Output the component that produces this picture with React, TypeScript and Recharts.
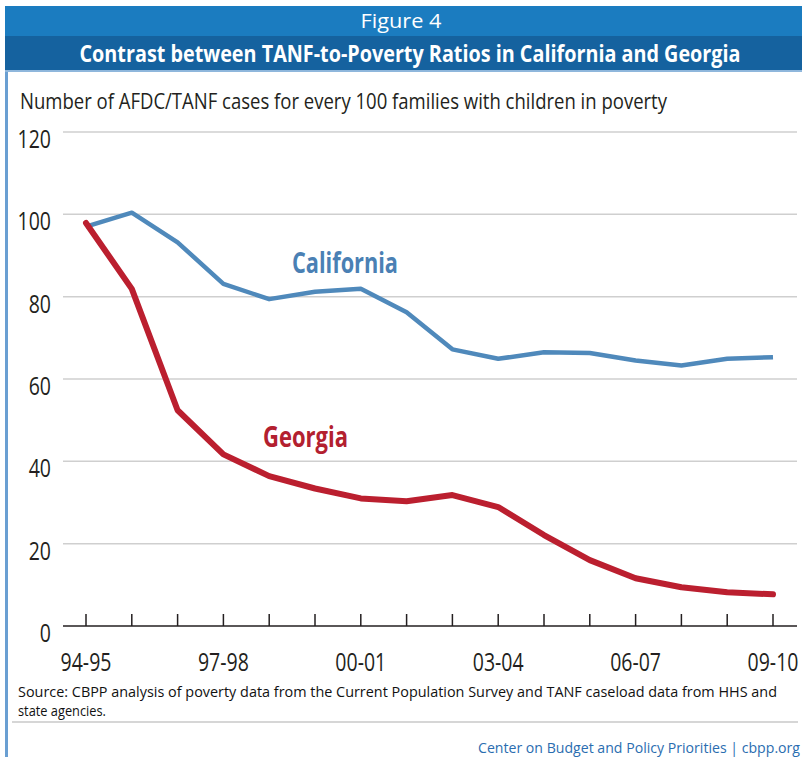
import { CartesianGrid, Line, LineChart, XAxis, YAxis } from 'recharts'

const years = [
  '94-95', '95-96', '96-97', '97-98', '98-99', '99-00', '00-01', '01-02',
  '02-03', '03-04', '04-05', '05-06', '06-07', '07-08', '08-09', '09-10',
]
const california = [97, 100.4, 93.2, 83.1, 79.4, 81.2, 81.9, 76.2, 67.2, 64.9, 66.5, 66.3, 64.5, 63.3, 64.9, 65.3]
const georgia = [97.9, 81.9, 52.4, 41.7, 36.4, 33.4, 31.0, 30.3, 31.8, 28.9, 22.1, 16.0, 11.6, 9.4, 8.2, 7.7]
const yTicks = [0, 20, 40, 60, 80, 100, 120]
const labeledYears = ['94-95', '97-98', '00-01', '03-04', '06-07', '09-10']

const data = years.map((year, i) => ({ year, california: california[i], georgia: georgia[i] }))

const font = "'Open Sans', 'Liberation Sans', sans-serif"
const ink = '#231f20'
// squeeze glyphs horizontally so the labels read as a condensed face
const squeeze = 0.78

function YearTick({ x, y, payload }: any) {
  return (
    <g>
      <line x1={x} x2={x} y1={y - 12} y2={y} stroke={ink} strokeWidth={1.5} />
      {labeledYears.includes(payload.value) && (
        <text
          transform={`translate(${x} ${y + 45}) scale(${squeeze} 1)`}
          textAnchor='middle'
          fill={ink}
          fontSize={25}
          fontFamily={font}
        >
          {payload.value}
        </text>
      )}
    </g>
  )
}

function ValueTick({ x, y, payload }: any) {
  return (
    <text
      transform={`translate(${x} ${y + 16}) scale(${squeeze} 1)`}
      textAnchor='end'
      fill={ink}
      fontSize={25}
      fontFamily={font}
    >
      {payload.value}
    </text>
  )
}

// text narrowed by scale s, then fitted to an exact on-screen width
function Narrow({ x, y, s, width, anchor = 'start', children, ...rest }: any) {
  return (
    <text
      transform={`translate(${x} ${y}) scale(${s} 1)`}
      textAnchor={anchor}
      textLength={width / s}
      lengthAdjust='spacingAndGlyphs'
      {...rest}
    >
      {children}
    </text>
  )
}

export default function App() {
  return (
    <div
      style={{
        position: 'absolute',
        left: 0,
        top: 0,
        width: 802,
        height: 757,
        background: '#fff',
        overflow: 'hidden',
      }}
    >
      {/* frame edge on the left */}
      <div style={{ position: 'absolute', left: 5, top: 36, width: 3, height: 721, background: '#6a9fd2' }} />

      {/* header bars */}
      <div style={{ position: 'absolute', left: 5, top: 6, width: 797, height: 30, background: '#1b7cc0' }} />
      <div style={{ position: 'absolute', left: 5, top: 36, width: 797, height: 34, background: '#15629f' }} />
      <div style={{ position: 'absolute', left: 5, top: 70, width: 797, height: 2, background: '#8fb7dc' }} />

      <div style={{ position: 'absolute', left: 0, top: 0 }}>
        <LineChart width={802} height={690} data={data} margin={{ top: 132, right: 5, bottom: 14, left: 13 }}>
          <CartesianGrid vertical={false} stroke='#cfcfcf' strokeWidth={1.5} horizontalValues={[20, 40, 60, 80, 100, 120]} />
          <XAxis
            dataKey='year'
            interval={0}
            height={50}
            padding={{ left: 23, right: 24 }}
            axisLine={{ stroke: ink, strokeWidth: 1.5 }}
            tickLine={false}
            tickSize={0}
            tickMargin={0}
            tick={<YearTick />}
          />
          <YAxis
            width={50}
            domain={[0, 120]}
            ticks={yTicks}
            axisLine={false}
            tickLine={false}
            tickSize={0}
            tickMargin={12}
            tick={<ValueTick />}
          />
          <Line
            type='linear'
            dataKey='california'
            stroke='#4f89bb'
            strokeWidth={4.5}
            strokeLinejoin='round'
            dot={false}
            isAnimationActive={false}
          />
          <Line
            type='linear'
            dataKey='georgia'
            stroke='#bb1f2f'
            strokeWidth={6}
            strokeLinejoin='round'
            strokeLinecap='round'
            dot={false}
            isAnimationActive={false}
          />
        </LineChart>
      </div>

      {/* titles, series labels and notes */}
      <svg
        width={802}
        height={757}
        style={{ position: 'absolute', left: 0, top: 0, pointerEvents: 'none' }}
        fontFamily={font}
      >
        <Narrow x={401} y={28} s={0.92} width={81} anchor='middle' fill='#fff' fontSize={20}>
          Figure 4
        </Narrow>
        <Narrow x={410} y={62} s={0.776} width={661} anchor='middle' fill='#fff' fontSize={23} fontWeight={700}>
          Contrast between TANF-to-Poverty Ratios in California and Georgia
        </Narrow>
        <Narrow x={20} y={109} s={0.775} width={647} fill={ink} fontSize={22}>
          Number of AFDC/TANF cases for every 100 families with children in poverty
        </Narrow>

        <Narrow x={292} y={273} s={0.757} width={106} fill='#4a80b4' fontSize={28} fontWeight={700}>
          California
        </Narrow>
        <Narrow x={263} y={447} s={0.81} width={85} fill='#b3202f' fontSize={28} fontWeight={700}>
          Georgia
        </Narrow>

        <Narrow x={18} y={697} s={0.885} width={759} fill='#111' fontSize={15}>
          Source: CBPP analysis of poverty data from the Current Population Survey and TANF caseload data from HHS and
        </Narrow>
        <Narrow x={18} y={716} s={0.885} width={88} fill='#111' fontSize={15}>
          state agencies.
        </Narrow>
        <line x1={12} x2={798} y1={722} y2={722} stroke='#c8c8c8' strokeWidth={1.5} />
        <Narrow x={800} y={753} s={0.826} width={322} anchor='end' fill='#2a6db0' fontSize={15}>
          Center on Budget and Policy Priorities | cbpp.org
        </Narrow>
      </svg>
    </div>
  )
}
